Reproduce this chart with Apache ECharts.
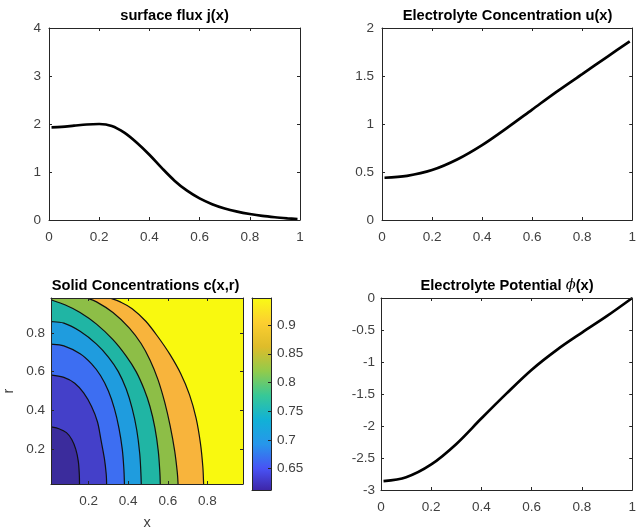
<!DOCTYPE html>
<html>
<head>
<meta charset="utf-8">
<script src="https://cdn.jsdelivr.net/npm/echarts@6/dist/echarts.min.js"></script>
<style>html,body{margin:0;padding:0;background:#fff}#c{width:639px;height:531px}</style>
</head>
<body>
<div id="c"></div>
<script>
// ---- data ----
const fluxX = [0.01,0.05,0.1,0.15,0.2,0.25,0.3,0.35,0.4,0.45,0.5,0.55,0.6,0.65,0.7,0.75,0.8,0.85,0.9,0.95,0.99];
const fluxJ = [1.93,1.94,1.965,1.99,2.0,1.96,1.82,1.61,1.36,1.08,0.82,0.61,0.45,0.33,0.24,0.175,0.125,0.085,0.057,0.035,0.02];

const uX   = [0.01,0.1,0.2,0.3,0.4,0.5,0.6,0.7,0.8,0.9,0.99];
const uVal = [0.44,0.46,0.52,0.63,0.78,0.96,1.15,1.34,1.52,1.70,1.86];

const phiX   = [0.01,0.1,0.2,0.3,0.4,0.5,0.6,0.7,0.8,0.9,1.0];
const phiVal = [-2.86,-2.80,-2.60,-2.28,-1.88,-1.49,-1.12,-0.81,-0.54,-0.28,0];

// contour lines of c(x,r), innermost (lowest level) first
const contourX = [
  [0.01,0.05,0.088,0.115,0.135,0.148,0.153,0.154],
  [0.01,0.075,0.13,0.175,0.215,0.245,0.262,0.28,0.289,0.291],
  [0.01,0.075,0.157,0.215,0.26,0.3,0.33,0.353,0.37,0.378,0.381],
  [0.01,0.075,0.157,0.24,0.3,0.35,0.39,0.42,0.443,0.458,0.464,0.466],
  [0.01,0.08,0.157,0.24,0.323,0.39,0.44,0.48,0.51,0.535,0.552,0.56,0.562],
  [0.19,0.24,0.323,0.406,0.465,0.51,0.55,0.585,0.612,0.635,0.648,0.652],
  [0.307,0.36,0.42,0.489,0.55,0.61,0.665,0.71,0.743,0.765,0.777,0.781]
];
const contourR = [
  [0.315,0.305,0.285,0.25,0.2,0.137,0.07,0.02],
  [0.583,0.57,0.54,0.49,0.42,0.34,0.25,0.15,0.07,0.02],
  [0.742,0.733,0.692,0.64,0.58,0.5,0.41,0.31,0.2,0.1,0.02],
  [0.858,0.85,0.808,0.742,0.675,0.6,0.51,0.41,0.3,0.18,0.08,0.02],
  [0.97,0.945,0.905,0.845,0.765,0.68,0.6,0.51,0.42,0.31,0.19,0.08,0.02],
  [0.98,0.96,0.905,0.825,0.745,0.66,0.56,0.44,0.32,0.19,0.08,0.02],
  [0.98,0.96,0.925,0.86,0.78,0.69,0.59,0.48,0.36,0.23,0.11,0.02]
];
const cDomainX = [0.01, 0.98];
const cDomainR = [0.02, 0.98];
const cTicks = [0.2,0.4,0.6,0.8];
const cbRange = [0.613, 0.947];
const cbTicks = [0.65,0.7,0.75,0.8,0.85,0.9];

// ---- styles ----
const FONT = 'Liberation Sans';
const AX = '#262626';
const LBL = '#404040';
const regionFill = ['#3B2C9C','#4440C9','#3D6EF2','#1F9CDE','#20B5A4','#8DBE47','#F8B43C'];
const topFill = '#F9F90F';
const parula = [
  [0,'#3E26A8'],[0.111,'#4852F4'],[0.238,'#2796EB'],[0.365,'#11B1D6'],
  [0.492,'#37C897'],[0.619,'#92CB4B'],[0.746,'#DEBC2A'],[0.873,'#FCCF30'],[1,'#F9FB15']
];

const chart = echarts.init(document.getElementById('c'), null, {renderer:'canvas'});

function mkX(gi, min, max, opt) {
  opt = opt || {};
  const base = {
    gridIndex: gi, type: 'value', min: min, max: max, z: 10,
    axisLine: {show: true, onZero: false, lineStyle: {color: AX, width: 1}},
    axisTick: {show: true, inside: true, length: 3, lineStyle: {color: AX}},
    splitLine: {show: false},
    axisLabel: {show: true, margin: 9, fontSize: 13.5, color: LBL, fontFamily: FONT}
  };
  return Object.assign(base, opt);
}
const lbl = (o) => Object.assign({show: true, fontSize: 13.5, color: LBL, fontFamily: FONT}, o);

const grids = [
  {left: 49, top: 28, width: 251, height: 192},
  {left: 382, top: 28, width: 251, height: 192},
  {left: 48, top: 298, width: 195, height: 192, show: true, backgroundColor: topFill, borderWidth: 0},
  {left: 252, top: 298, width: 19, height: 192},
  {left: 381, top: 298, width: 252, height: 192}
];

const xAxis = [
  mkX(0, 0, 1, {interval: 0.2, axisLabel: lbl({margin: 10})}),
  mkX(0, 0, 1, {interval: 0.2, position: 'top', axisLabel: {show: false}}),
  mkX(1, 0, 1, {interval: 0.2, axisLabel: lbl({margin: 10})}),
  mkX(1, 0, 1, {interval: 0.2, position: 'top', axisLabel: {show: false}}),
  mkX(2, cDomainX[0], cDomainX[1], {
    axisLabel: lbl({margin: 10, customValues: cTicks}),
    axisTick: {show: true, inside: true, length: 3, customValues: cTicks, lineStyle: {color: AX}},
    name: 'x', nameLocation: 'middle', nameGap: 31,
    nameTextStyle: {fontSize: 14.5, color: LBL, fontFamily: FONT}
  }),
  mkX(2, cDomainX[0], cDomainX[1], {position: 'top', axisLabel: {show: false},
    axisTick: {show: true, inside: true, length: 3, customValues: cTicks, lineStyle: {color: AX}}}),
  {gridIndex: 3, type: 'category', data: ['c'], z: 10, boundaryGap: true,
    axisLine: {show: true, lineStyle: {color: AX}}, axisTick: {show: false}, axisLabel: {show: false}},
  {gridIndex: 3, type: 'category', data: ['c'], z: 10, position: 'top', boundaryGap: true,
    axisLine: {show: true, lineStyle: {color: AX}}, axisTick: {show: false}, axisLabel: {show: false}},
  mkX(4, 0, 1, {interval: 0.2, axisLabel: lbl({margin: 10})}),
  mkX(4, 0, 1, {interval: 0.2, position: 'top', axisLabel: {show: false}})
];

const yAxis = [
  mkX(0, 0, 4, {interval: 1, axisLabel: lbl({margin: 8})}),
  mkX(0, 0, 4, {interval: 1, position: 'right', axisLabel: {show: false}}),
  mkX(1, 0, 2, {interval: 0.5, axisLabel: lbl({margin: 8})}),
  mkX(1, 0, 2, {interval: 0.5, position: 'right', axisLabel: {show: false}}),
  mkX(2, cDomainR[0], cDomainR[1], {
    axisLabel: lbl({margin: 6, customValues: cTicks}),
    axisTick: {show: true, inside: true, length: 3, customValues: cTicks, lineStyle: {color: AX}},
    name: 'r', nameLocation: 'middle', nameGap: 35,
    nameTextStyle: {fontSize: 14.5, color: LBL, fontFamily: FONT}
  }),
  mkX(2, cDomainR[0], cDomainR[1], {position: 'right', axisLabel: {show: false},
    axisTick: {show: true, inside: true, length: 3, customValues: cTicks, lineStyle: {color: AX}}}),
  mkX(3, cbRange[0], cbRange[1], {position: 'right',
    axisLabel: lbl({margin: 6, customValues: cbTicks}),
    axisTick: {show: true, inside: true, length: 3, customValues: cbTicks, lineStyle: {color: AX}}}),
  mkX(3, cbRange[0], cbRange[1], {position: 'left', axisLabel: {show: false}, axisTick: {show: false}}),
  mkX(4, -3, 0, {interval: 0.5, axisLabel: lbl({margin: 6})}),
  mkX(4, -3, 0, {interval: 0.5, position: 'right', axisLabel: {show: false}})
];

const zip = (a, b) => a.map((v, i) => [v, b[i]]);
const curveLine = (xi, yi, xs, ys) => ({
  type: 'line', xAxisIndex: xi, yAxisIndex: yi, data: zip(xs, ys),
  smooth: 0.33, showSymbol: false, symbol: 'none', z: 3,
  lineStyle: {color: '#000', width: 2.7}
});

const series = [
  curveLine(0, 0, fluxX, fluxJ),
  curveLine(2, 2, uX, uVal),
  curveLine(8, 8, phiX, phiVal)
];

// Catmull-Rom spline through pixel points, as SVG path commands
function splineCmds(p) {
  let d = '';
  const n = p.length;
  for (let i = 0; i < n - 1; i++) {
    const p0 = p[Math.max(i - 1, 0)], p1 = p[i], p2 = p[i + 1], p3 = p[Math.min(i + 2, n - 1)];
    const c1 = [p1[0] + (p2[0] - p0[0]) / 6, p1[1] + (p2[1] - p0[1]) / 6];
    const c2 = [p2[0] - (p3[0] - p1[0]) / 6, p2[1] - (p3[1] - p1[1]) / 6];
    d += ' C' + c1[0] + ',' + c1[1] + ' ' + c2[0] + ',' + c2[1] + ' ' + p2[0] + ',' + p2[1];
  }
  return d;
}

// filled contours drawn outermost first, so inner bands paint over outer ones
const contourOrder = contourX.map((_, k) => contourX.length - 1 - k);
series.push({
  type: 'custom', xAxisIndex: 4, yAxisIndex: 4, z: 2,
  data: contourOrder.map(k => [k]),
  renderItem: function (params, api) {
    const k = api.value(0);
    const pts = contourX[k].map((x, i) => api.coord([x, contourR[k][i]]));
    const corner0 = api.coord([cDomainX[0], cDomainR[0]]);
    const cornerTop = api.coord([cDomainX[0], contourR[k][0]]);
    const start = 'M' + pts[0][0] + ',' + pts[0][1];
    const curve = splineCmds(pts);
    const fillPath = 'M' + corner0[0] + ',' + corner0[1] + ' L' + cornerTop[0] + ',' + cornerTop[1] +
      ' L' + pts[0][0] + ',' + pts[0][1] + curve + ' Z';
    const cs = params.coordSys;
    return {
      type: 'group',
      clipPath: {type: 'rect', shape: {x: cs.x, y: cs.y, width: cs.width, height: cs.height}},
      children: [
        {type: 'path', shape: {pathData: fillPath}, style: {fill: regionFill[k], stroke: null}},
        {type: 'path', shape: {pathData: start + curve}, style: {fill: null, stroke: '#111', lineWidth: 1.2}}
      ]
    };
  }
});

// colorbar
series.push({
  type: 'custom', xAxisIndex: 6, yAxisIndex: 6, data: [[0, cbRange[0], cbRange[1]]], z: 2,
  renderItem: function (params, api) {
    const p0 = api.coord([0, api.value(1)]);
    const p1 = api.coord([0, api.value(2)]);
    const w = api.size([1, 0])[0];
    return {
      type: 'rect',
      shape: {x: p0[0] - w / 2, y: p1[1], width: w, height: p0[1] - p1[1]},
      style: {fill: new echarts.graphic.LinearGradient(0, 1, 0, 0,
        parula.map(s => ({offset: s[0], color: s[1]})))}
    };
  }
});

const titleStyle = {fontFamily: FONT, fontWeight: 'bold', fontSize: 14.7, color: '#000',
  rich: {p: {fontFamily: 'DejaVu Serif', fontStyle: 'italic', fontWeight: 'normal', fontSize: 14.7, color: '#000'}}};
const mkTitle = (text, cx, top) => ({text: text, left: cx, top: top, textAlign: 'center',
  textVerticalAlign: 'top', padding: 0, textStyle: titleStyle});

chart.setOption({
  backgroundColor: '#fff',
  animation: false,
  title: [
    mkTitle('surface flux j(x)', 174.5, 8),
    mkTitle('Electrolyte Concentration u(x)', 507.5, 8),
    mkTitle('Solid Concentrations c(x,r)', 145.5, 278),
    mkTitle('Electrolyte Potential {p|ϕ}(x)', 507, 278)
  ],
  grid: grids,
  xAxis: xAxis,
  yAxis: yAxis,
  series: series
});
</script>
</body>
</html>
